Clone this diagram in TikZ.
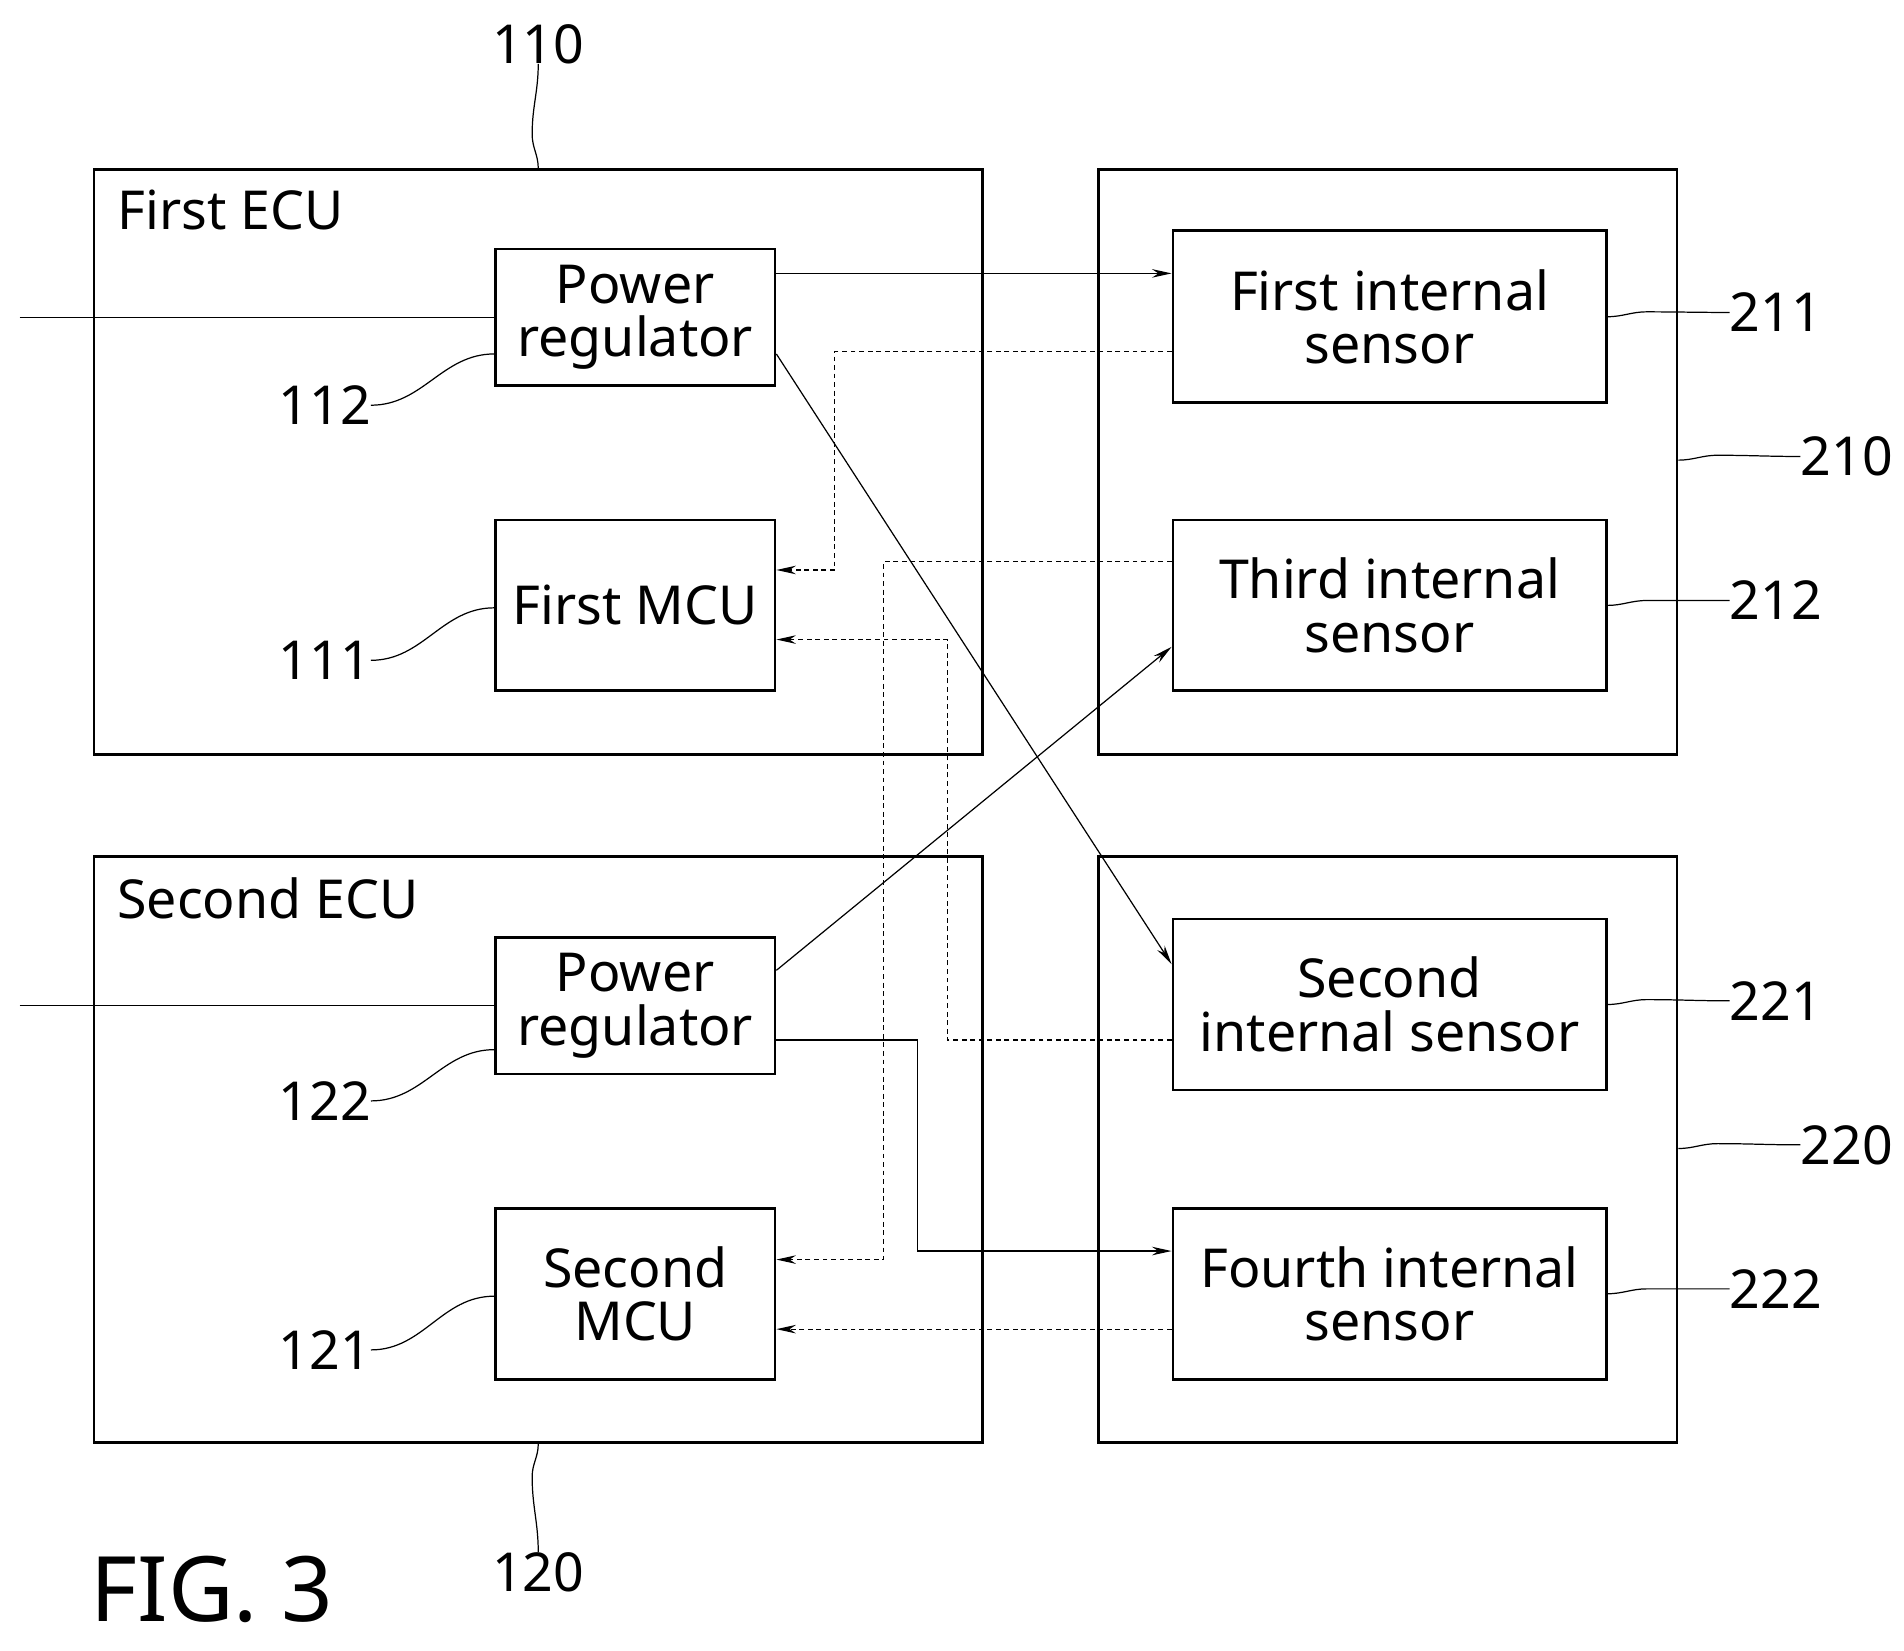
\documentclass[tikz,border=0pt]{standalone}
\usepackage{fontspec}
\setmainfont{Noto Sans}
\usetikzlibrary{arrows.meta,positioning,calc}
\begin{document}
\begin{tikzpicture}[
        x=1pt,y=-1pt,
        >={Stealth[length=16pt,width=7pt]},
        outer/.style={draw,line width=2.2pt,inner sep=0pt},
        box/.style={draw,line width=2.2pt,inner sep=0pt,align=center,
            font=\fontsize{44}{48}\selectfont},
        wire/.style={line width=1pt},
        signal/.style={line width=1pt,dash pattern=on 4pt off 3pt},
        num/.style={font=\fontsize{44}{48}\selectfont,inner sep=0pt}
    ]
        \useasboundingbox (0,0) rectangle (1560,1352);

        % outer frames
        \node (ECUa) [outer,minimum width=728,minimum height=479] at (441,378.5) {};
        \node (ECUb) [outer,minimum width=728,minimum height=480] at (441,942) {};
        \node (SENa) [outer,minimum width=474,minimum height=479] at (1137,378.5) {};
        \node (SENb) [outer,minimum width=474,minimum height=480] at (1137,942) {};
        \node [num,anchor=west] at (96,172) {First ECU};
        \node [num,anchor=west] at (96,736) {Second ECU};

        % inner blocks
        \node (PRa) [box,minimum width=229,minimum height=112] at (520.5,260) {Power\\[-4pt]regulator};
        \node (MCUa) [box,minimum width=229,minimum height=140] at (520.5,496) {First MCU};
        \node (PRb) [box,minimum width=229,minimum height=112] at (520.5,824) {Power\\[-4pt]regulator};
        \node (MCUb) [box,minimum width=229,minimum height=140] at (520.5,1060) {Second\\[-4pt]MCU};
        \node (FIS) [box,minimum width=355,minimum height=141] at (1138.5,259.5) {First internal\\[-4pt]sensor};
        \node (TIS) [box,minimum width=355,minimum height=140] at (1138.5,496) {Third internal\\[-4pt]sensor};
        \node (SIS) [box,minimum width=355,minimum height=140] at (1138.5,823) {Second\\[-4pt]internal sensor};
        \node (FoIS) [box,minimum width=355,minimum height=140] at (1138.5,1060) {Fourth internal\\[-4pt]sensor};

        % supply lines
        \coordinate (INa) at (16,260);
        \coordinate (INb) at (16,824);
        \draw [wire] (INa) -- (PRa.west);
        \draw [wire] (INb) -- (PRb.west);

        % power connections
        \draw [wire,->] (PRa.east |- {(0,224)}) -- (FIS.west |- {(0,224)});
        \draw [wire,->] (PRa.east |- {(0,290)}) -- (SIS.west |- {(0,790)});
        \draw [wire,->] (PRb.east |- {(0,795)}) -- (TIS.west |- {(0,530)});
        \draw [wire,->] (PRb.east |- {(0,852)}) -| (752,1025) -- (FoIS.west |- {(0,1025)});

        % sensor signals
        \draw [signal,->] (FIS.west |- {(0,288)}) -| (684,467) -- (MCUa.east |- {(0,467)});
        \draw [signal,->] (TIS.west |- {(0,460)}) -| (724,1032) -- (MCUb.east |- {(0,1032)});
        \draw [signal,->] (SIS.west |- {(0,852)}) -| (776,524) -- (MCUa.east |- {(0,524)});
        \draw [signal,->] (FoIS.west |- {(0,1089)}) -- (MCUb.east |- {(0,1089)});

        % reference numerals
        \node (Na) [num] at (441,36) {110};
        \node (Nb) [num] at (441,1288) {120};
        \draw [wire] (ECUa.north) to[out=90,in=-90] (436,110) to[out=90,in=-90] (Na.south);
        \draw [wire] (ECUb.south) to[out=-90,in=90] (436,1210) to[out=-90,in=90] (Nb.north);
        \node (N112) [num] at (266,332) {112};
        \node (N111) [num] at (266,541) {111};
        \node (N122) [num] at (266,902) {122};
        \node (N121) [num] at (266,1106) {121};
        \draw [wire] (N112.east) to[out=0,in=180] (PRa.west |- {(0,290)});
        \draw [wire] (N111.east) to[out=0,in=180] (MCUa.west |- {(0,498)});
        \draw [wire] (N122.east) to[out=0,in=180] (PRb.west |- {(0,860)});
        \draw [wire] (N121.east) to[out=0,in=180] (MCUb.west |- {(0,1062)});
        \node (N211) [num] at (1455,256) {211};
        \node (N212) [num] at (1455,492) {212};
        \node (N210) [num] at (1513,374) {210};
        \node (N221) [num] at (1455,820) {221};
        \node (N222) [num] at (1455,1056) {222};
        \node (N220) [num] at (1513,938) {220};
        \draw [wire] (FIS.east) to[out=0,in=180] ++(32,-4) to[out=0,in=180] (N211.west);
        \draw [wire] (TIS.east) to[out=0,in=180] ++(32,-4) to[out=0,in=180] (N212.west);
        \draw [wire] (SENa.east |- {(0,377)}) to[out=0,in=180] ++(32,-4) to[out=0,in=180] (N210.west);
        \draw [wire] (SIS.east) to[out=0,in=180] ++(32,-4) to[out=0,in=180] (N221.west);
        \draw [wire] (FoIS.east) to[out=0,in=180] ++(32,-4) to[out=0,in=180] (N222.west);
        \draw [wire] (SENb.east |- {(0,941)}) to[out=0,in=180] ++(32,-4) to[out=0,in=180] (N220.west);

        \node [font=\fontsize{74}{78}\selectfont,anchor=west,inner sep=0pt] at (74,1302) {FIG. 3};
    \end{tikzpicture}
\end{document}
